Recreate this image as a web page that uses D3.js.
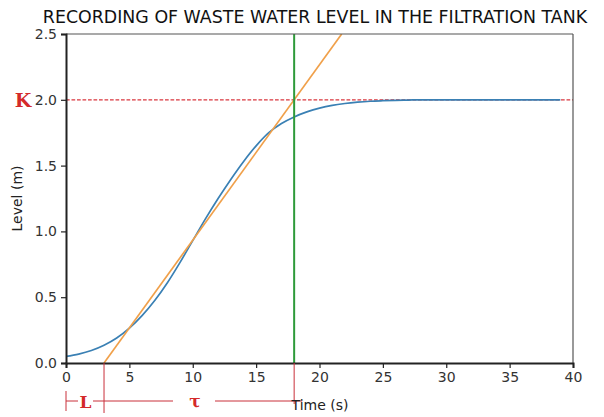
<!DOCTYPE html>
<html>
<head>
<meta charset="utf-8">
<script src="https://cdn.jsdelivr.net/npm/d3@7"></script>
<style>
  body { margin: 0; background: #fff; }
  svg { display: block; font-family: "DejaVu Sans", sans-serif; }
</style>
</head>
<body>
<svg id="chart" width="604" height="417"></svg>
<script>
// step response, one point per second
var timeS = [0, 1, 2, 3, 4, 5, 6, 7, 8, 9, 10, 11, 12, 13, 14, 15, 16, 17, 18, 19,
    20, 21, 22, 23, 24, 25, 26, 27, 28, 29, 30, 31, 32, 33, 34, 35, 36, 37, 38, 39];
var levelM = [0.05, 0.068, 0.095, 0.135, 0.19, 0.265, 0.36, 0.475, 0.61, 0.765,
    0.93, 1.095, 1.25, 1.395, 1.53, 1.65, 1.75, 1.82, 1.87, 1.908,
    1.937, 1.958, 1.972, 1.982, 1.989, 1.993, 1.996, 1.998, 2.0, 2.0,
    2.0, 2.0, 2.0, 2.0, 2.0, 2.0, 2.0, 2.0, 2.0, 2.0];

// tangent method parameters
var kGain = 2.0;
var lDelay = 3;
var tau = 15;

var xTicks = [0, 5, 10, 15, 20, 25, 30, 35, 40];
var yTicks = [0.0, 0.5, 1.0, 1.5, 2.0, 2.5];

var svg = d3.select("#chart");
var margin = {left: 66, right: 31, top: 34, bottom: 54};
var width = 604 - margin.left - margin.right;
var height = 417 - margin.top - margin.bottom;

var x = d3.scaleLinear().domain([0, 40]).range([margin.left, margin.left + width]);
var y = d3.scaleLinear().domain([0, 2.5]).range([margin.top + height, margin.top]);

svg.append("text")
    .attr("x", 315)
    .attr("y", 23)
    .attr("text-anchor", "middle")
    .style("font-size", "17.4px")
    .style("fill", "#111")
    .text("RECORDING OF WASTE WATER LEVEL IN THE FILTRATION TANK");

svg.append("clipPath").attr("id", "plotClip")
    .append("rect")
    .attr("x", margin.left).attr("y", margin.top)
    .attr("width", width).attr("height", height);

var plot = svg.append("g").attr("clip-path", "url(#plotClip)");

// K line
plot.append("line")
    .attr("x1", x(0)).attr("x2", x(40))
    .attr("y1", y(kGain)).attr("y2", y(kGain))
    .attr("stroke", "#d9363e")
    .attr("stroke-width", 1.2)
    .attr("stroke-dasharray", "3.7,1.8");

// response curve
plot.append("path")
    .datum(d3.zip(timeS, levelM))
    .attr("fill", "none")
    .attr("stroke", "#3a80b4")
    .attr("stroke-width", 1.7)
    .attr("d", d3.line().curve(d3.curveCatmullRom.alpha(0.5))
        .x(function(d) { return x(d[0]); })
        .y(function(d) { return y(d[1]); }));

// tangent line through inflection, from L to L+tau and beyond
var slope = kGain / tau;
plot.append("line")
    .attr("x1", x(lDelay)).attr("y1", y(0))
    .attr("x2", x(lDelay + 2.5 / slope)).attr("y2", y(2.5))
    .attr("stroke", "#f0a04a")
    .attr("stroke-width", 1.7);

// vertical at L+tau
plot.append("line")
    .attr("x1", x(lDelay + tau)).attr("x2", x(lDelay + tau))
    .attr("y1", y(0)).attr("y2", y(2.5))
    .attr("stroke", "#2e9a3a")
    .attr("stroke-width", 2);

// frame
svg.append("line")
    .attr("x1", x(0)).attr("x2", x(40)).attr("y1", y(2.5)).attr("y2", y(2.5))
    .attr("stroke", "#555").attr("stroke-width", 1.2);
svg.append("line")
    .attr("x1", x(40)).attr("x2", x(40)).attr("y1", y(0)).attr("y2", y(2.5))
    .attr("stroke", "#555").attr("stroke-width", 1.2);

var xAxis = svg.append("g")
    .attr("transform", "translate(0," + y(0) + ")")
    .call(d3.axisBottom(x).tickValues(xTicks).tickSize(5).tickPadding(4)
        .tickFormat(d3.format("d")));
var yAxis = svg.append("g")
    .attr("transform", "translate(" + x(0) + ",0)")
    .call(d3.axisLeft(y).tickValues(yTicks).tickSize(5).tickPadding(4)
        .tickFormat(d3.format(".1f")));

[xAxis, yAxis].forEach(function(ax) {
    ax.select(".domain").attr("stroke", "#222").attr("stroke-width", 2);
    ax.selectAll(".tick line").attr("stroke", "#222").attr("stroke-width", 1.2);
    ax.selectAll(".tick text")
        .style("font-size", "14px")
        .style("font-family", "DejaVu Sans, sans-serif")
        .attr("fill", "#333");
});

svg.append("text")
    .attr("transform", "translate(17," + (margin.top + height / 2) + ") rotate(-90)")
    .attr("text-anchor", "middle")
    .attr("dominant-baseline", "central")
    .style("font-size", "14px")
    .style("fill", "#222")
    .text("Level (m)");

// red annotations
var red = "#c9303a";
svg.append("text")
    .attr("x", 23).attr("y", y(kGain))
    .attr("text-anchor", "middle")
    .attr("dominant-baseline", "central")
    .style("font-family", "DejaVu Serif, serif")
    .style("font-weight", "bold")
    .style("font-size", "19px")
    .style("fill", "#d42a2a")
    .text("K");

var annY = 401;
var anno = svg.append("g").attr("stroke", red).attr("stroke-width", 1);
anno.append("line").attr("x1", x(0)).attr("x2", x(0)).attr("y1", 391).attr("y2", 411);
anno.append("line").attr("x1", x(lDelay)).attr("x2", x(lDelay)).attr("y1", y(0)).attr("y2", 413);
anno.append("line").attr("x1", x(lDelay + tau)).attr("x2", x(lDelay + tau)).attr("y1", y(0)).attr("y2", 404);
anno.append("line").attr("x1", x(0)).attr("x2", 78).attr("y1", annY).attr("y2", annY);
anno.append("line").attr("x1", 93).attr("x2", x(lDelay)).attr("y1", annY).attr("y2", annY);
anno.append("line").attr("x1", x(lDelay)).attr("x2", 173).attr("y1", annY).attr("y2", annY);
anno.append("line").attr("x1", 215).attr("x2", x(lDelay + tau) + 8).attr("y1", annY).attr("y2", annY);

svg.append("text")
    .attr("x", 85.5).attr("y", annY + 1)
    .attr("text-anchor", "middle")
    .attr("dominant-baseline", "central")
    .style("font-family", "DejaVu Serif, serif")
    .style("font-weight", "bold")
    .style("font-size", "17px")
    .style("fill", "#d42a2a")
    .text("L");
svg.append("text")
    .attr("x", 195).attr("y", annY)
    .attr("text-anchor", "middle")
    .attr("dominant-baseline", "central")
    .style("font-family", "DejaVu Serif, serif")
    .style("font-weight", "bold")
    .style("font-size", "17px")
    .style("fill", "#d42a2a")
    .text("τ");

svg.append("text")
    .attr("x", 320).attr("y", 410)
    .attr("text-anchor", "middle")
    .style("font-size", "14px")
    .style("fill", "#222")
    .text("Time (s)");
</script>
</body>
</html>
